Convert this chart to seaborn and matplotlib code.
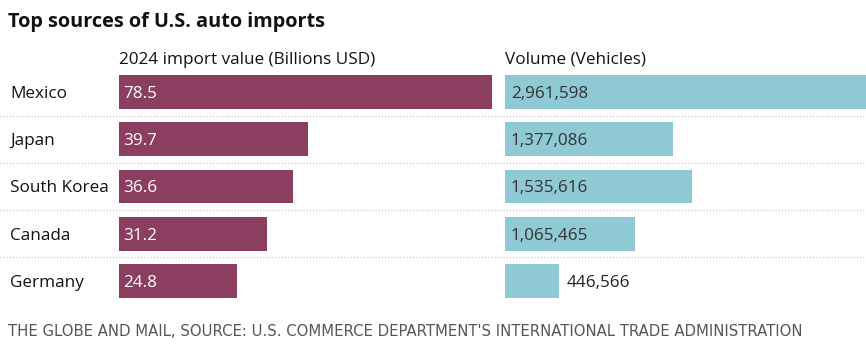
import matplotlib
matplotlib.use("Agg")
import matplotlib.pyplot as plt
import matplotlib.transforms as mtransforms
from matplotlib.lines import Line2D
import pandas as pd
import seaborn as sns

countries = ["Mexico", "Japan", "South Korea", "Canada", "Germany"]
import_value = [78.5, 39.7, 36.6, 31.2, 24.8]
volume = [2961598, 1377086, 1535616, 1065465, 446566]
value_labels = ["78.5", "39.7", "36.6", "31.2", "24.8"]
volume_labels = ["2,961,598", "1,377,086", "1,535,616", "1,065,465", "446,566"]

df = pd.DataFrame({"country": countries, "value": import_value, "volume": volume})

sns.set_style("white")
plt.rcParams["font.family"] = ["Open Sans", "DejaVu Sans"]

fig = plt.figure(figsize=(8.66, 3.53), dpi=100)
ax1 = fig.add_axes([119 / 866, 48.5 / 353, 373 / 866, 236 / 353])
ax2 = fig.add_axes([505 / 866, 48.5 / 353, 361 / 866, 236 / 353])

sns.barplot(data=df, x="value", y="country", color="#8B3E60", saturation=1,
            width=0.72, linewidth=0, ax=ax1)
sns.barplot(data=df, x="volume", y="country", color="#8FC9D4", saturation=1,
            width=0.72, linewidth=0, ax=ax2)

ax1.set_xlim(0, 78.5)
ax2.set_xlim(0, 2961598)
for ax in (ax1, ax2):
    ax.set_ylim(4.5, -0.5)
    ax.set_xlabel("")
    ax.set_ylabel("")
    ax.set_xticks([])
    ax.set_yticks([])
    sns.despine(ax=ax, left=True, bottom=True)

fs = 12.3

# value labels
for i, lab in enumerate(value_labels):
    ax1.text(0.9, i, lab, color="white", fontsize=fs, va="center_baseline", ha="left")
for i, lab in enumerate(volume_labels):
    if volume[i] > 600000:
        ax2.text(48000, i, lab, color="#333333", fontsize=fs, va="center_baseline", ha="left")
    else:
        ax2.text(volume[i] + 60000, i, lab, color="#222222", fontsize=fs,
                 va="center_baseline", ha="left")

# country labels
trans = mtransforms.blended_transform_factory(fig.transFigure, ax1.transData)
for i, c in enumerate(countries):
    ax1.text(10 / 866, i, c, transform=trans, fontsize=fs, va="center_baseline",
             ha="left", color="#111111")

# dotted separators
fig.canvas.draw()
to_fig = ax1.transData + fig.transFigure.inverted()
for y in [0.5, 1.5, 2.5, 3.5]:
    yf = to_fig.transform((0, y))[1]
    fig.add_artist(Line2D([0, 1], [yf, yf], color="#cccccc", lw=0.9,
                          linestyle=(0, (1, 1.5))))

# headers
fig.text(119 / 866, 1 - 58 / 353, "2024 import value (Billions USD)",
         fontsize=fs, va="center_baseline", ha="left", color="#111111")
fig.text(505 / 866, 1 - 58 / 353, "Volume (Vehicles)",
         fontsize=fs, va="center_baseline", ha="left", color="#111111")

fig.text(8 / 866, 1 - 19 / 353, "Top sources of U.S. auto imports",
         fontsize=14.3, fontweight="bold", va="center_baseline", ha="left", color="#111111")
fig.text(8 / 866, 1 - 330 / 353,
         "THE GLOBE AND MAIL, SOURCE: U.S. COMMERCE DEPARTMENT'S INTERNATIONAL TRADE ADMINISTRATION",
         fontsize=10.7, family="DejaVu Sans", va="center_baseline", ha="left", color="#555555")

fig.savefig("out.png", dpi=100)
